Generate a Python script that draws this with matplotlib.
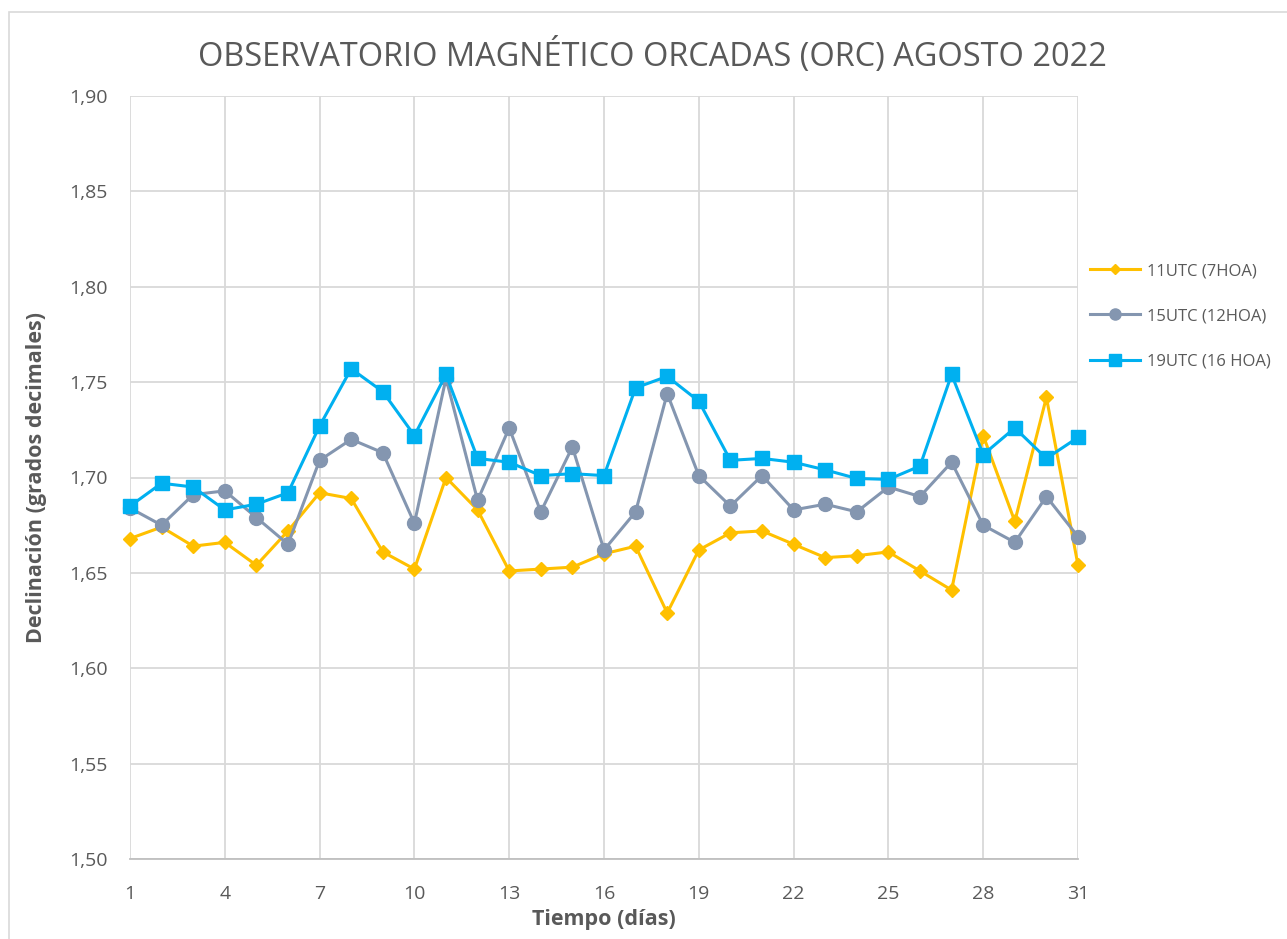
import matplotlib
matplotlib.use("Agg")
import matplotlib.pyplot as plt
from matplotlib.ticker import FuncFormatter, MultipleLocator
from matplotlib.patches import Rectangle

plt.rcParams['font.family'] = ['Open Sans', 'DejaVu Sans']

# data
days = list(range(1, 32))
utc11 = [1.668, 1.674, 1.664, 1.666, 1.654, 1.672, 1.692, 1.689, 1.661, 1.652,
         1.700, 1.683, 1.651, 1.652, 1.653, 1.660, 1.664, 1.629, 1.662, 1.671,
         1.672, 1.665, 1.658, 1.659, 1.661, 1.651, 1.641, 1.722, 1.677, 1.742,
         1.654]
utc15 = [1.684, 1.675, 1.691, 1.693, 1.679, 1.665, 1.709, 1.720, 1.713, 1.676,
         1.752, 1.688, 1.726, 1.682, 1.716, 1.662, 1.682, 1.744, 1.701, 1.685,
         1.701, 1.683, 1.686, 1.682, 1.695, 1.690, 1.708, 1.675, 1.666, 1.690,
         1.669]
utc19 = [1.685, 1.697, 1.695, 1.683, 1.686, 1.692, 1.727, 1.757, 1.745, 1.722,
         1.754, 1.710, 1.708, 1.701, 1.702, 1.701, 1.747, 1.753, 1.740, 1.709,
         1.710, 1.708, 1.704, 1.6995, 1.699, 1.706, 1.754, 1.712, 1.726, 1.710,
         1.721]
x_ticks = list(range(1, 32, 3))
labels = ["11UTC (7HOA)", "15UTC (12HOA)", "19UTC (16 HOA)"]
colors = ["#FFC000", "#8496B0", "#00B0F0"]

W, H = 1287, 939
fig = plt.figure(figsize=(W / 100, H / 100), dpi=100)
ax = fig.add_axes([130 / W, 1 - 859 / H, (1078 - 130) / W, (859 - 96) / H])

# outer chart border
fig.patches.append(Rectangle((9 / W, -0.1), 1.2, 1 - 12 / H + 0.1, transform=fig.transFigure,
                             fill=False, edgecolor="#D9D9D9", linewidth=1.2, zorder=0))

ax.plot(days, utc11, color=colors[0], lw=2.2, marker="D", ms=7, label=labels[0], zorder=3, clip_on=False)
ax.plot(days, utc15, color=colors[1], lw=2.2, marker="o", ms=10, label=labels[1], zorder=4, clip_on=False)
ax.plot(days, utc19, color=colors[2], lw=2.2, marker="s", ms=10, label=labels[2], zorder=5, clip_on=False)

ax.set_xlim(1, 31)
ax.set_ylim(1.50, 1.90)
ax.set_xticks(x_ticks)
ax.yaxis.set_major_locator(MultipleLocator(0.05))
ax.yaxis.set_major_formatter(FuncFormatter(lambda v, p: f"{v:.2f}".replace(".", ",")))
ax.grid(True, color="#D9D9D9", lw=1.3)
ax.set_axisbelow(True)
for s in ["top", "right", "left"]:
    ax.spines[s].set_visible(False)
ax.spines["bottom"].set_color("#BFBFBF")
ax.spines["bottom"].set_linewidth(1.3)
ax.tick_params(axis="both", length=0, labelsize=14, labelcolor="#595959")
ax.tick_params(axis="y", pad=16)
ax.tick_params(axis="x", pad=19)

ax.set_xlabel("Tiempo (días)", fontsize=15.5, fontweight="bold", color="#595959", labelpad=4)
ax.set_ylabel("Declinación (grados decimales)", fontsize=15.5, fontweight="bold", color="#595959", labelpad=16)

fig.text(652 / W, 1 - 56 / H, "OBSERVATORIO MAGNÉTICO ORCADAS (ORC) AGOSTO 2022",
         ha="center", va="center", fontsize=23.4, color="#595959")

fig.legend(loc="upper left", bbox_to_anchor=(1075 / W, 1 - 248 / H), frameon=False,
           fontsize=12, labelcolor="#595959", handlelength=3.0, labelspacing=1.75,
           handletextpad=0.4, markerscale=0.8)

fig.savefig("out.png", dpi=100)
